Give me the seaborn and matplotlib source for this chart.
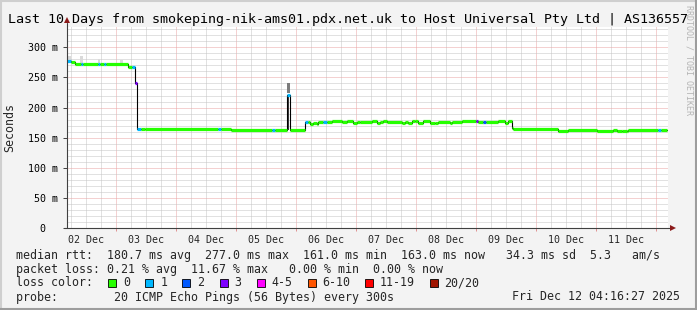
import numpy as np
import pandas as pd
import matplotlib
matplotlib.use("Agg")
import matplotlib.pyplot as plt
import matplotlib.dates as mdates
from matplotlib.ticker import MultipleLocator, FuncFormatter, NullFormatter
from matplotlib.patches import Rectangle
from matplotlib.lines import Line2D
import seaborn as sns

# ---------------- data ----------------
seg_start = [
    "2025-12-02 04:16", "2025-12-02 05:52", "2025-12-02 07:28", "2025-12-02 09:52",
    "2025-12-02 10:40", "2025-12-02 16:40", "2025-12-02 17:28", "2025-12-02 19:04",
    "2025-12-02 19:52", "2025-12-03 04:40", "2025-12-03 06:16", "2025-12-03 07:40",
    "2025-12-03 08:28", "2025-12-03 09:52", "2025-12-03 11:28", "2025-12-04 16:40",
    "2025-12-04 17:52", "2025-12-04 21:52", "2025-12-05 14:16", "2025-12-05 15:28",
    "2025-12-05 20:16", "2025-12-05 21:40", "2025-12-06 03:28", "2025-12-06 04:40",
    "2025-12-06 05:28", "2025-12-06 06:48", "2025-12-06 08:08", "2025-12-06 08:48",
    "2025-12-06 10:48", "2025-12-06 12:08", "2025-12-06 14:08", "2025-12-06 18:08",
    "2025-12-06 20:08", "2025-12-06 22:48", "2025-12-07 00:08", "2025-12-07 01:28",
    "2025-12-07 06:08", "2025-12-07 08:08", "2025-12-07 09:28", "2025-12-07 10:48",
    "2025-12-07 12:08", "2025-12-07 18:08", "2025-12-07 19:28", "2025-12-07 20:48",
    "2025-12-07 22:08", "2025-12-07 23:28", "2025-12-08 00:48", "2025-12-08 02:48",
    "2025-12-08 05:28", "2025-12-08 07:28", "2025-12-08 08:48", "2025-12-08 13:28",
    "2025-12-08 14:08", "2025-12-08 18:08", "2025-12-08 23:44", "2025-12-09 00:32",
    "2025-12-09 02:48", "2025-12-09 03:44", "2025-12-09 08:48", "2025-12-09 11:28",
    "2025-12-09 12:48", "2025-12-09 14:08", "2025-12-09 14:48", "2025-12-10 08:32",
    "2025-12-10 12:48", "2025-12-11 00:08", "2025-12-11 06:48", "2025-12-11 08:08",
    "2025-12-11 10:08", "2025-12-11 12:08", "2025-12-11 12:48", "2025-12-12 00:48",
    "2025-12-12 01:52",
]
median_ms = [
    277, 276, 272, 272, 272, 272, 272, 272,
    272, 267, 267, 241, 165, 165, 164, 164,
    164, 162.5, 162.5, 162.5, 221, 162.5, 175.5, 175.5,
    173, 175, 173, 176, 176, 176.5, 177, 176,
    177, 174, 176, 176.5, 177, 174, 176, 177,
    176, 174, 176, 174, 178, 177, 175, 177,
    175, 174, 176, 174, 176, 177, 177, 176,
    176, 176, 177, 175, 177, 166.5, 164, 162,
    163.5, 162, 163.5, 162, 161, 162, 163.5, 163.5,
    163,
]
loss_count = [
    1, 0, 0, 1, 0, 1, 0, 1,
    0, 0, 1, 3, 1, 0, 0, 1,
    0, 0, 1, 0, 1, 0, 1, 0,
    0, 0, 0, 0, 1, 0, 0, 0,
    0, 0, 0, 0, 0, 0, 0, 0,
    0, 0, 0, 0, 0, 0, 0, 0,
    0, 0, 0, 0, 0, 0, 3, 0,
    2, 0, 0, 0, 0, 0, 0, 0,
    0, 0, 0, 0, 0, 0, 0, 1,
    0,
]
series_end = "2025-12-12 04:16"

smoke_start = ["2025-12-02 04:40", "2025-12-02 09:28", "2025-12-02 16:40", "2025-12-03 01:28",
               "2025-12-05 20:16", "2025-12-05 20:16"]
smoke_end = ["2025-12-02 05:52", "2025-12-02 10:40", "2025-12-02 17:28", "2025-12-03 02:40",
             "2025-12-05 21:40", "2025-12-05 21:00"]
smoke_low = [276, 272, 272, 272, 224, 163]
smoke_high = [286, 286, 281, 279, 240, 221]

day_labels = ["02 Dec", "03 Dec", "04 Dec", "05 Dec", "06 Dec",
              "07 Dec", "08 Dec", "09 Dec", "10 Dec", "11 Dec"]
label_dates = ["2025-12-02 12:00", "2025-12-03 12:00", "2025-12-04 12:00", "2025-12-05 12:00",
               "2025-12-06 12:00", "2025-12-07 12:00", "2025-12-08 12:00", "2025-12-09 12:00",
               "2025-12-10 12:00", "2025-12-11 12:00"]

loss_names = ["0", "1", "2", "3", "4-5", "6-10", "11-19", "20/20"]
loss_colors = ["#26ff00", "#00b8ff", "#0059ff", "#7e00ff", "#ff00ff", "#ff5500", "#ff0000", "#a01400"]

title = "Last 10 Days from smokeping-nik-ams01.pdx.net.uk to Host Universal Pty Ltd | AS136557"
stat_lines = [
    "median rtt:  180.7 ms avg  277.0 ms max  161.0 ms min  163.0 ms now   34.3 ms sd  5.3   am/s",
    "packet loss: 0.21 % avg  11.67 % max   0.00 % min  0.00 % now",
]
probe_text = "probe:        20 ICMP Echo Pings (56 Bytes) every 300s"
stamp_text = "Fri Dec 12 04:16:27 2025"
range_start = "2025-12-02 04:16:27"

# ---------------- figure ----------------
W, H = 697, 310
sns.set_theme(style="white")
plt.rcParams["font.family"] = ["DejaVu Sans Mono", "DejaVu Sans"]

fig = plt.figure(figsize=(W / 100, H / 100), dpi=100, facecolor="#f3f3f3")
ax = fig.add_axes([67 / W, (H - 228.3) / H, 601 / W, (228.3 - 26.7) / H])
ax.set_facecolor("white")

tnum = mdates.date2num(pd.to_datetime(seg_start))
tend = mdates.date2num(pd.to_datetime(series_end))
tnext = np.append(tnum[1:], tend)
vals = np.array(median_ms, dtype=float)
loss = np.array(loss_count)

x0 = mdates.date2num(pd.to_datetime(range_start))
ax.set_xlim(x0, x0 + 601 / 60)
ax.set_ylim(0, 334)

# grids
ax.set_axisbelow(True)
ax.yaxis.set_major_locator(MultipleLocator(50))
ax.yaxis.set_minor_locator(MultipleLocator(10))
ax.xaxis.set_major_locator(mdates.DayLocator())
ax.xaxis.set_minor_locator(mdates.HourLocator(byhour=[0, 6, 12, 18]))
ax.grid(which="major", color="#eaa4a4", lw=0.72, ls=(0, (1, 1)))
ax.grid(which="minor", color="#c4c4c4", lw=0.72, ls=(0, (1, 1)))
ax.xaxis.set_major_formatter(NullFormatter())
ax.yaxis.set_major_formatter(FuncFormatter(lambda v, p: "0  " if v == 0 else f"{int(v)} m"))
ax.tick_params(axis="y", which="major", length=3, width=0.7, color="#404040",
               labelsize=7.2, pad=3.4, labelcolor="black", left=True)
ax.tick_params(axis="x", which="major", length=2, width=0.7, color="#e09090", bottom=True)
ax.tick_params(which="minor", length=0)
for s in ax.spines.values():
    s.set_visible(False)

sec = ax.secondary_xaxis("bottom")
sec.set_xticks(mdates.date2num(pd.to_datetime(label_dates)), labels=day_labels)
sec.tick_params(length=0, pad=4.5, labelsize=7.2)
sec.spines["bottom"].set_visible(False)

# smoke
ss = mdates.date2num(pd.to_datetime(smoke_start))
se = mdates.date2num(pd.to_datetime(smoke_end))
smoke_cols = ["#dadada", "#dadada", "#dadada", "#dadada", "#7c7c7c", "#3c3c3c"]
ax.bar(ss, np.array(smoke_high) - np.array(smoke_low), bottom=smoke_low, width=se - ss,
       align="edge", color=smoke_cols, linewidth=0, zorder=2)

# black median step line
df = pd.DataFrame({"t": np.append(tnum, tend), "rtt": np.append(vals, vals[-1])})
sns.lineplot(data=df, x="t", y="rtt", drawstyle="steps-post", color="black", lw=0.8,
             ax=ax, sort=False, estimator=None, zorder=3)
ax.set_xlabel("")
ax.set_ylabel("")

# loss-coloured median segments
seg_cols = [loss_colors[k] for k in loss]
ax.hlines(vals, tnum, tnext, colors=seg_cols, lw=2.3, zorder=4)

# axes lines with arrows
ax.plot([0, 0], [0, 1 + 4 / 201.6], transform=ax.transAxes, color="#404040", lw=0.8,
        clip_on=False, zorder=5)
ax.plot([-3 / 601, 1 + 3 / 601], [0, 0], transform=ax.transAxes, color="#404040", lw=0.8,
        clip_on=False, zorder=5)
ax.plot([0], [1 + 7 / 201.6], marker="^", ms=4.5, color="#8b1a1a", transform=ax.transAxes,
        clip_on=False, zorder=6, mew=0)
ax.plot([1 + 5 / 601], [0], marker=">", ms=4.5, color="#8b1a1a", transform=ax.transAxes,
        clip_on=False, zorder=6, mew=0)

# texts
fig.text(0.5, 1 - 19.5 / H, title, ha="center", va="center", fontsize=9.6, color="black")
fig.text(10 / W, 1 - 128 / H, "Seconds", rotation=90, ha="center", va="center", fontsize=8.4)
fig.text(688.5 / W, 1 - 60 / H, "RRDTOOL / TOBI OETIKER", rotation=270, ha="center",
         va="center", fontsize=6.0, color="#b4b4b4")
fig.text(16.4 / W, 1 - 255 / H, stat_lines[0], ha="left", va="center", fontsize=8.37)
fig.text(16.4 / W, 1 - 269 / H, stat_lines[1], ha="left", va="center", fontsize=8.37)
fig.text(16.4 / W, 1 - 283 / H, "loss color:", ha="left", va="center", fontsize=8.37)
fig.text(16.4 / W, 1 - 297 / H, probe_text, ha="left", va="center", fontsize=8.37)
fig.text(680 / W, 1 - 297 / H, stamp_text, ha="right", va="center", fontsize=8.37)

box_x = [108, 145.3, 182.2, 219.6, 256.9, 307.6, 365.3, 430.2]
lab_x = [123.6, 160.4, 197.3, 234.7, 271.0, 322.0, 380.0, 444.4]
for bx, lx, name, col in zip(box_x, lab_x, loss_names, loss_colors):
    fig.add_artist(Rectangle((bx / W, 1 - 287 / H), 8 / W, 8 / H, transform=fig.transFigure,
                             facecolor=col, edgecolor="black", lw=0.6))
    fig.text(lx / W, 1 - 283 / H, name, ha="left", va="center", fontsize=8.37)

# frame
fig.add_artist(Line2D([0, 1], [1 - 1 / H, 1 - 1 / H], transform=fig.transFigure, color="#cfcfcf", lw=1.5))
fig.add_artist(Line2D([1 / W, 1 / W], [0, 1], transform=fig.transFigure, color="#cfcfcf", lw=1.5))
fig.add_artist(Line2D([0, 1], [1 / H, 1 / H], transform=fig.transFigure, color="#9d9d9d", lw=1.5))
fig.add_artist(Line2D([1 - 1 / W, 1 - 1 / W], [0, 1], transform=fig.transFigure, color="#9d9d9d", lw=1.5))

fig.savefig("out.png", dpi=100, facecolor=fig.get_facecolor())
